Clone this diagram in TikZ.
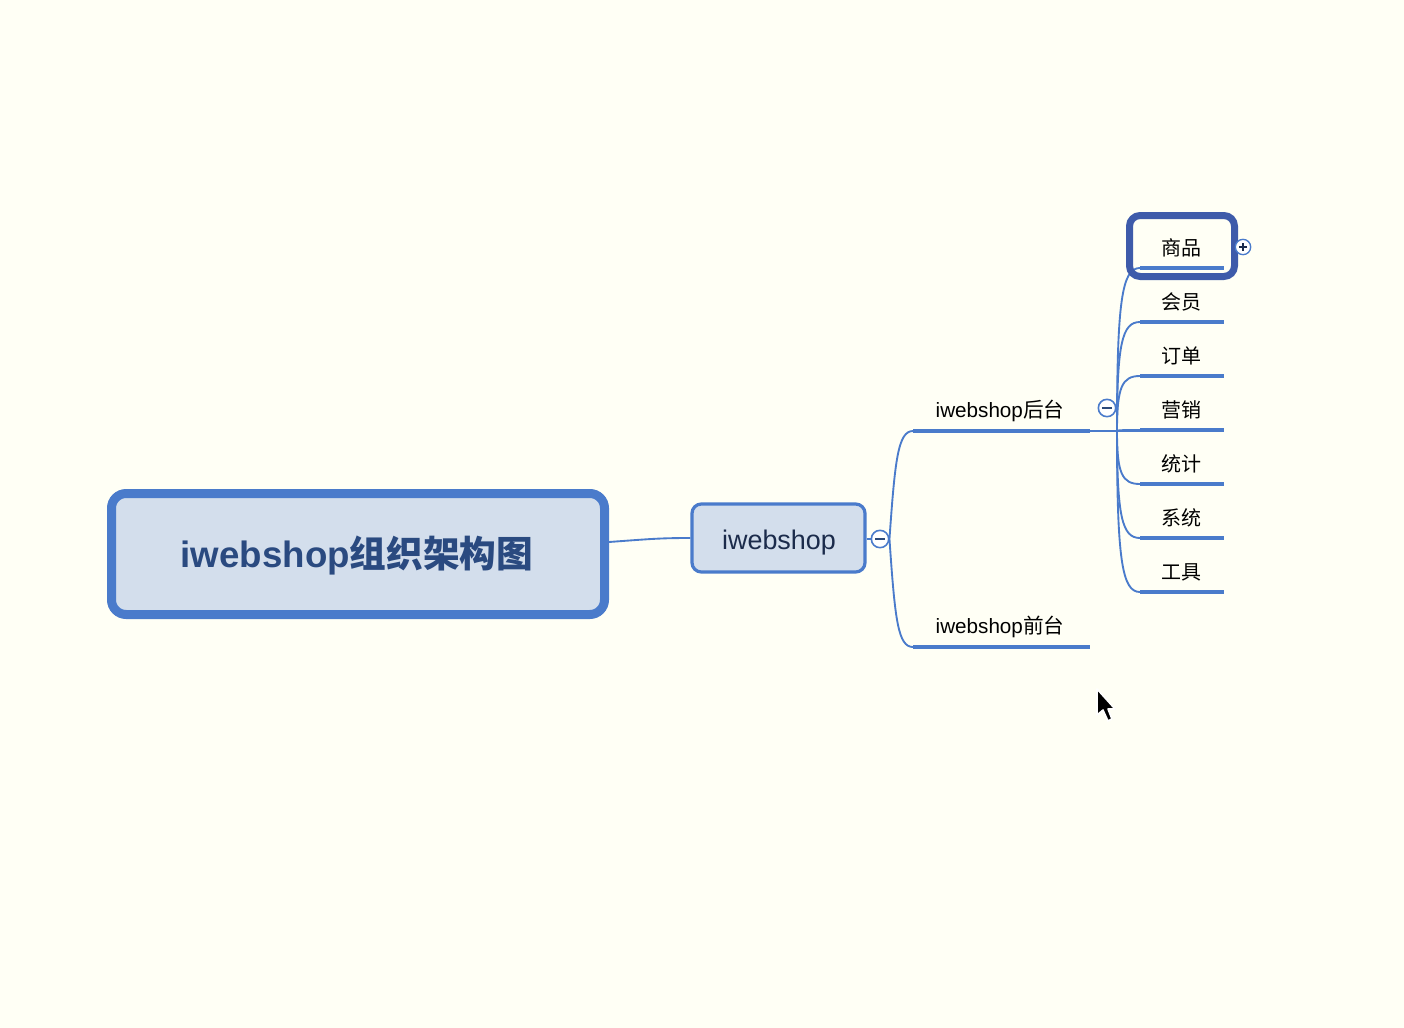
\documentclass[tikz,border=0pt]{standalone}
\usepackage{fontspec}
\newfontfamily\cjk{Noto Sans CJK SC}
\newfontfamily\lat{Liberation Sans}
\definecolor{bgc}{HTML}{FFFFF5}
\definecolor{lblue}{HTML}{4A7BCB}
\definecolor{fillb}{HTML}{D3DEEC}
\definecolor{roottxt}{HTML}{2A4A80}
\definecolor{selc}{HTML}{3E5BAA}
\definecolor{midtxt}{HTML}{1B2B4B}
\begin{document}
\begin{tikzpicture}[x=0.75pt,y=-0.75pt,
  conn/.style={draw=lblue,line width=1.4pt},
  uline/.style={draw=lblue,line width=3.6pt},
  toggle/.style={circle,draw=lblue,line width=1.2pt,fill=white,minimum size=13pt,inner sep=0pt},
  lbl/.style={anchor=base,inner sep=0pt,font=\lat\fontsize{15.5}{18}\selectfont,text=black},
  clbl/.style={anchor=base,inner sep=0pt,font=\cjk\fontsize{15}{18}\selectfont,text=black}]
\fill[bgc] (0,0) rectangle (1404,1028);
\useasboundingbox (0,0) rectangle (1404,1028);

% root
\node[draw=lblue,fill=fillb,line width=6.75pt,rounded corners=11pt,minimum width=493*0.75pt,minimum height=121*0.75pt,inner sep=0pt] (root) at (358,554) {};
\node[anchor=base,inner sep=0pt,text=roottxt,font=\lat\bfseries\fontsize{27.5}{32}\selectfont] (roott) at (357,567) {iwebshop{\cjk\bfseries 组织架构图}};

% middle
\node[draw=lblue,fill=fillb,line width=2.4pt,rounded corners=7pt,minimum width=173*0.75pt,minimum height=68*0.75pt,inner sep=0pt] (mid) at (778.5,538) {};
\node[anchor=base,inner sep=0pt,text=midtxt,font=\lat\fontsize{20.2}{24}\selectfont] (midt) at (779,549) {iwebshop};

\draw[conn] (root.east |- 0,542) .. controls (650,539) and (660,538) .. (mid.west |- 0,538);

% toggle after mid
\node[toggle] (t1) at (880,539) {};
\draw[lblue!60!black,line width=1.2pt] ([xshift=-3.5pt]t1.center) -- ([xshift=3.5pt]t1.center);
\draw[conn] (mid.east |- 0,539) -- (t1.west);

% level 2
\coordinate (hs) at (913,431); \coordinate (he) at (1090,431);
\coordinate (qs) at (913,647); \coordinate (qe) at (1090,647);
\draw[uline] (hs) -- (he);
\draw[uline] (qs) -- (qe);
\node[lbl] (hou) at (1000,417) {iwebshop{\cjk 后台}};
\node[lbl] (qian) at (1000,633) {iwebshop{\cjk 前台}};
\draw[conn] (t1.east) .. controls (895,460) and (898,431) .. (hs);
\draw[conn] (t1.east) .. controls (895,620) and (898,647) .. (qs);

% toggle after hou
\node[toggle] (t2) at (1107,408) {};
\draw[lblue!60!black,line width=1.2pt] ([xshift=-3.5pt]t2.center) -- ([xshift=3.5pt]t2.center);
\coordinate (o2) at (1117,431);
\draw[conn,line width=1pt] (he) -- (1140,431);

% level 3
\foreach \n/\t/\y in {c1/商品/268,c2/会员/322,c3/订单/376,c4/营销/430,c5/统计/484,c6/系统/538,c7/工具/592}{
  \coordinate (\n s) at (1140,\y);
  \coordinate (\n e) at (1224,\y);
  \draw[uline] (\n s) -- (\n e);
  \node[clbl] (\n) at (1181,\y-13) {\t};
  \draw[conn] (o2) .. controls (1117,{431+(\y-431)*0.8}) and (1122,\y) .. (\n s);
}

% selected box
\node[draw=selc,line width=5.25pt,rounded corners=8pt,minimum width=105*0.75pt,minimum height=61*0.75pt,inner sep=0pt] (sel) at (1182,246) {};
\node[toggle,line width=1pt,minimum size=11.5pt] (t3) at (1243,247) {};
\draw[midtxt,line width=1.2pt] ([xshift=-3pt]t3.center) -- ([xshift=3pt]t3.center) ([yshift=-3pt]t3.center) -- ([yshift=3pt]t3.center);

% cursor
\filldraw[fill=black,draw=white,line width=1.2pt,line join=round] (1097,689) -- (1097,715) -- (1103,710) -- (1108,721) -- (1112,719) -- (1108,709) -- (1115,709) -- cycle;
\end{tikzpicture}
\end{document}
